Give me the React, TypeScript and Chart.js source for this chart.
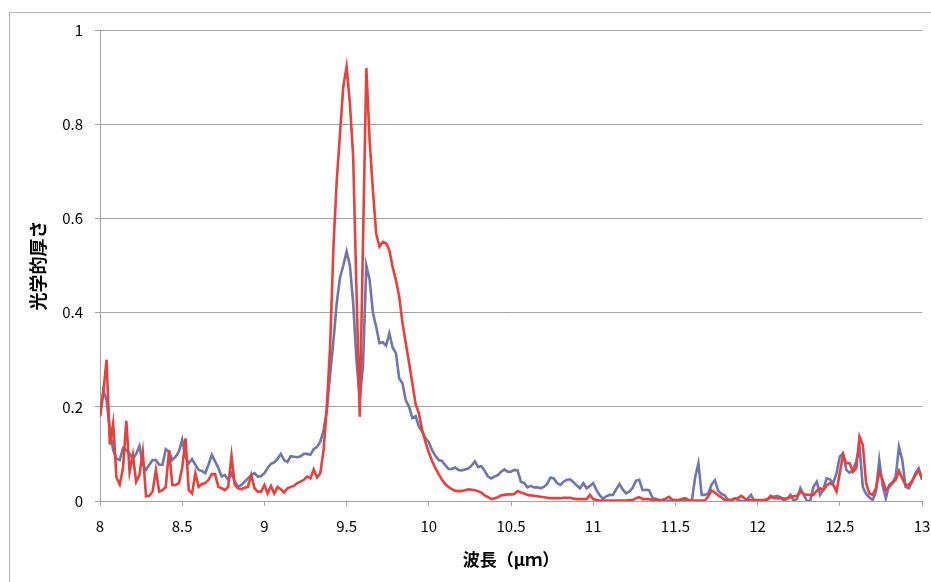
import React, { useEffect, useRef } from "react";
import { Chart, registerables } from "chart.js";

Chart.register(...registerables);

// Sampling grid of the spectrum (μm)
const WL_START = 8.0;
const WL_STEP = 0.02;

// Series 1 (blue) – optical thickness, 8.00 … 13.00 μm, every 0.02 μm
const blueSeries: number[] = [
  0.18, 0.235, 0.215, 0.15, 0.108, 0.09, 0.087, 0.112, 0.108, 0.1,
  0.09, 0.1, 0.117, 0.077, 0.066, 0.077, 0.087, 0.087, 0.077, 0.077,
  0.11, 0.105, 0.087, 0.094, 0.105, 0.13, 0.094, 0.08, 0.089, 0.077,
  0.066, 0.064, 0.059, 0.077, 0.098, 0.084, 0.07, 0.052, 0.055, 0.045,
  0.059, 0.041, 0.03, 0.034, 0.041, 0.048, 0.055, 0.059, 0.052, 0.053,
  0.059, 0.07, 0.079, 0.082, 0.09, 0.1, 0.087, 0.083, 0.095, 0.094,
  0.093, 0.095, 0.1, 0.1, 0.098, 0.11, 0.115, 0.126, 0.15, 0.194,
  0.27, 0.34, 0.42, 0.475, 0.5, 0.53, 0.5, 0.42, 0.3, 0.215,
  0.29, 0.5, 0.47, 0.4, 0.37, 0.335, 0.337, 0.33, 0.356, 0.326,
  0.314, 0.26, 0.25, 0.214, 0.2, 0.176, 0.18, 0.158, 0.147, 0.133,
  0.125, 0.108, 0.096, 0.087, 0.085, 0.076, 0.068, 0.068, 0.071, 0.066,
  0.065, 0.067, 0.069, 0.075, 0.084, 0.072, 0.074, 0.064, 0.052, 0.048,
  0.052, 0.055, 0.062, 0.067, 0.062, 0.062, 0.066, 0.065, 0.041, 0.038,
  0.029, 0.032, 0.029, 0.029, 0.027, 0.03, 0.036, 0.05, 0.048, 0.038,
  0.034, 0.041, 0.045, 0.046, 0.04, 0.033, 0.027, 0.038, 0.027, 0.032,
  0.038, 0.023, 0.012, 0.005, 0.01, 0.013, 0.013, 0.025, 0.036, 0.024,
  0.016, 0.02, 0.028, 0.043, 0.045, 0.023, 0.024, 0.023, 0.007, 0.005,
  0.002, 0, 0, 0, 0, 0, 0.001, 0.002, 0.002, 0.002,
  0.001, 0.05, 0.08, 0.013, 0.013, 0.016, 0.035, 0.044, 0.022, 0.015,
  0.012, 0.002, 0.002, 0.006, 0.002, 0, 0, 0.005, 0.013, 0,
  0, 0, 0, 0.003, 0.007, 0.009, 0.011, 0.008, 0.001, 0.005,
  0.013, 0, 0.005, 0.027, 0.013, 0, 0, 0.03, 0.041, 0.013,
  0.025, 0.048, 0.046, 0.038, 0.059, 0.094, 0.101, 0.066, 0.06, 0.066,
  0.084, 0.115, 0.03, 0.015, 0.008, 0.002, 0.02, 0.087, 0.034, 0.006,
  0.034, 0.039, 0.052, 0.115, 0.087, 0.03, 0.027, 0.041, 0.059, 0.069,
  0.045,
];

// Series 2 (red) – optical thickness, 8.00 … 13.00 μm, every 0.02 μm
const redSeries: number[] = [
  0.18, 0.23, 0.3, 0.12, 0.165, 0.05, 0.035, 0.07, 0.17, 0.062,
  0.098, 0.041, 0.055, 0.105, 0.01, 0.011, 0.02, 0.066, 0.02, 0.023,
  0.03, 0.108, 0.034, 0.034, 0.038, 0.07, 0.133, 0.023, 0.016, 0.059,
  0.03, 0.036, 0.038, 0.045, 0.057, 0.057, 0.03, 0.027, 0.023, 0.03,
  0.096, 0.034, 0.027, 0.025, 0.028, 0.03, 0.055, 0.027, 0.02, 0.02,
  0.034, 0.016, 0.032, 0.016, 0.03, 0.025, 0.018, 0.027, 0.03, 0.032,
  0.038, 0.041, 0.045, 0.052, 0.048, 0.067, 0.05, 0.059, 0.108, 0.2,
  0.33, 0.54, 0.68, 0.78, 0.88, 0.922, 0.845, 0.731, 0.448, 0.179,
  0.554, 0.919, 0.766, 0.66, 0.568, 0.54, 0.55, 0.547, 0.533, 0.497,
  0.469, 0.434, 0.378, 0.335, 0.293, 0.25, 0.205, 0.186, 0.15, 0.125,
  0.103, 0.085, 0.07, 0.057, 0.045, 0.036, 0.03, 0.025, 0.022, 0.021,
  0.021, 0.023, 0.025, 0.024, 0.023, 0.021, 0.018, 0.012, 0.008, 0.004,
  0.006, 0.008, 0.012, 0.013, 0.014, 0.014, 0.015, 0.021, 0.018, 0.016,
  0.013, 0.012, 0.011, 0.01, 0.009, 0.008, 0.007, 0.006, 0.006, 0.006,
  0.006, 0.007, 0.007, 0.007, 0.005, 0.004, 0.004, 0.004, 0.004, 0.013,
  0.004, 0.002, 0.001, 0.001, 0.001, 0.001, 0.001, 0.001, 0.001, 0.001,
  0.001, 0.002, 0.002, 0.006, 0.008, 0.004, 0.004, 0.004, 0.002, 0.002,
  0.002, 0.002, 0.005, 0.009, 0.003, 0.002, 0.002, 0.004, 0.006, 0.002,
  0.001, 0.001, 0.001, 0.001, 0.001, 0.01, 0.022, 0.018, 0.012, 0.008,
  0.002, 0.002, 0.002, 0.004, 0.006, 0.011, 0.006, 0.002, 0.002, 0.002,
  0.002, 0.002, 0.002, 0.004, 0.011, 0.006, 0.006, 0.006, 0.005, 0.006,
  0.008, 0.01, 0.011, 0.02, 0.015, 0.013, 0.013, 0.013, 0.022, 0.027,
  0.023, 0.033, 0.038, 0.034, 0.02, 0.06, 0.098, 0.08, 0.08, 0.062,
  0.069, 0.137, 0.119, 0.038, 0.016, 0.013, 0.027, 0.062, 0.046, 0.023,
  0.03, 0.038, 0.045, 0.064, 0.048, 0.034, 0.034, 0.043, 0.055, 0.066,
  0.05,
];

const wavelengths: number[] = blueSeries.map((_, i) => +(WL_START + i * WL_STEP).toFixed(2));

const X_MIN = 8;
const X_MAX = 13;
const X_STEP = 0.5;
const Y_MIN = 0;
const Y_MAX = 1;
const Y_STEP = 0.2;

const X_TITLE = "波長（μｍ）";
const Y_TITLE = "光学的厚さ";

const FONT = "'Noto Sans CJK JP', 'Noto Sans', sans-serif";
const GRID = "#a3a3a3";

const fmt = (v: any) => String(Number(Number(v).toFixed(2)));

const framePlugin = {
  id: "outerFrame",
  beforeDraw(chart: any) {
    const ctx = chart.ctx;
    ctx.save();
    ctx.fillStyle = "#ffffff";
    ctx.fillRect(0, 0, chart.width, chart.height);
    ctx.strokeStyle = "#b5b5b5";
    ctx.lineWidth = 1;
    ctx.strokeRect(9.5, 12.5, chart.width + 20, chart.height + 20);
    ctx.restore();
  },
};

export default function App() {
  const ref = useRef<HTMLCanvasElement | null>(null);

  useEffect(() => {
    if (!ref.current) return;
    const chart = new Chart(ref.current, {
      type: "line",
      data: {
        datasets: [
          {
            label: "red",
            data: wavelengths.map((x, i) => ({ x, y: redSeries[i] })),
            borderColor: "rgb(232, 64, 60)",
            borderWidth: 2.6,
            pointRadius: 0,
            tension: 0,
            fill: false,
          },
          {
            label: "blue",
            data: wavelengths.map((x, i) => ({ x, y: blueSeries[i] })),
            borderColor: "rgb(112, 117, 172)",
            borderWidth: 2.6,
            pointRadius: 0,
            tension: 0,
            fill: false,
          },
        ],
      },
      options: {
        responsive: false,
        animation: false,
        devicePixelRatio: 1,
        layout: { padding: { top: 30, right: 9, left: 0, bottom: 0 } },
        plugins: {
          legend: { display: false },
          tooltip: { enabled: false },
        },
        scales: {
          x: {
            type: "linear",
            min: X_MIN,
            max: X_MAX,
            afterFit: (s: any) => {
              s.height = 81;
              s.paddingLeft = 0;
              s.paddingRight = 0;
            },
            ticks: {
              stepSize: X_STEP,
              padding: 11,
              color: "#000",
              font: { family: FONT, size: 15 },
              maxRotation: 0,
              callback: fmt,
            },
            grid: {
              drawOnChartArea: false,
              drawTicks: true,
              tickLength: 5,
              color: GRID,
            },
            border: { display: true, color: GRID, width: 1 },
            title: {
              display: true,
              text: X_TITLE,
              color: "#000",
              font: { family: FONT, size: 17, weight: "bold" },
              padding: { top: 0, bottom: 12 },
            },
          },
          y: {
            type: "linear",
            min: Y_MIN,
            max: Y_MAX,
            afterFit: (s: any) => {
              s.width = 100;
              s.paddingTop = 0;
              s.paddingBottom = 0;
            },
            ticks: {
              stepSize: Y_STEP,
              padding: 12,
              color: "#000",
              font: { family: FONT, size: 15 },
              callback: fmt,
            },
            grid: {
              drawTicks: true,
              tickLength: 5,
              color: GRID,
            },
            border: { display: true, color: GRID, width: 1 },
            title: {
              display: true,
              text: Y_TITLE,
              color: "#000",
              font: { family: FONT, size: 18, weight: "bold" },
              padding: { top: 27, bottom: 0 },
            },
          },
        },
      },
      plugins: [framePlugin],
    });
    return () => chart.destroy();
  }, []);

  return (
    <div style={{ position: "absolute", left: 0, top: 0, width: 931, height: 582 }}>
      <canvas ref={ref} width={931} height={582} />
    </div>
  );
}
